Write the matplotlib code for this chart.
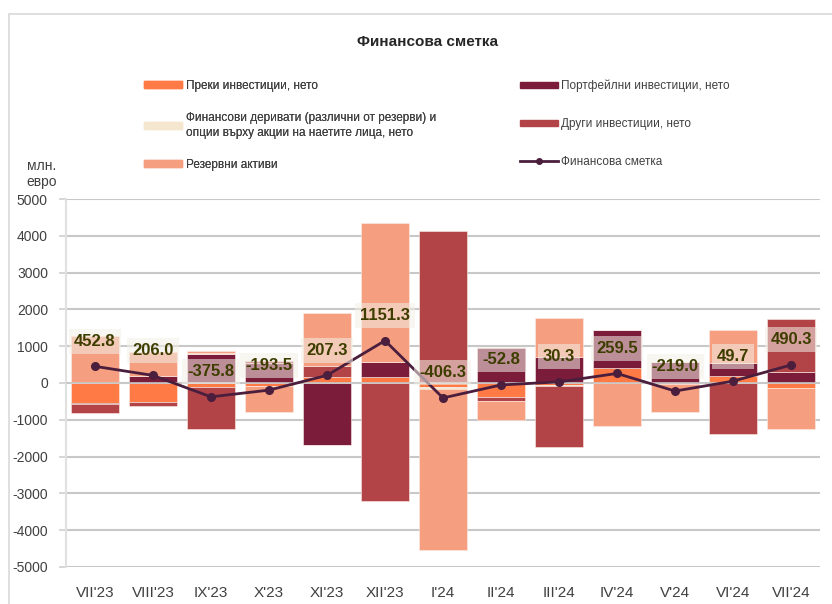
import matplotlib.pyplot as plt
import matplotlib.patches as mpatches
import matplotlib.lines as mlines
import numpy as np

months = ["VII'23", "VIII'23", "IX'23", "X'23", "XI'23", "XII'23", "I'24",
          "II'24", "III'24", "IV'24", "V'24", "VI'24", "VII'24"]

direct = [-545, -510, -100, -90, 170, 150, -120, -370, -60, 400, -15, 180, -140]
portfolio = [-30, 200, 790, 540, -1690, 430, 0, 950, 700, 1040, 560, 350, 310]
derivatives = [8, 1, 25, -4, -3, 0, -40, -3, -35, 0, 0, 0, 0]
other = [-250, -115, -1150, 50, 300, -3209, 4124, -110, -1655, 0, 0, -1390, 1430]
reserves = [1270, 630, 59, -690, 1430, 3780, -4370, -520, 1080, -1180, -765, 910, -1110]
fin_account = [452.8, 206.0, -375.8, -193.5, 207.3, 1151.3, -406.3,
               -52.8, 30.3, 259.5, -219.0, 49.7, 490.3]

series = [
    ("Преки инвестиции, нето", direct, "#FF7A45"),
    ("Портфейлни инвестиции, нето", portfolio, "#7B1C3A"),
    ("Финансови деривати (различни от резерви) и\nопции върху акции на наетите лица, нето", derivatives, "#F5E6D0"),
    ("Други инвестиции, нето", other, "#B24448"),
    ("Резервни активи", reserves, "#F59E80"),
]
line_label = "Финансова сметка"
line_color = "#4A1E3C"

plt.rcParams['font.family'] = ['Liberation Sans', 'DejaVu Sans']
plt.rcParams['axes.unicode_minus'] = False
narrow = ['Liberation Sans Narrow', 'Liberation Sans', 'DejaVu Sans']

fig = plt.figure(figsize=(8.32, 6.04), dpi=100)
ax = fig.add_axes([0.0793, 0.0613, 0.9063, 0.6092])

x = np.arange(len(months))
pos_bottom = np.zeros(len(months))
neg_bottom = np.zeros(len(months))
handles = {}
for label, vals, color in series:
    vals = np.array(vals, dtype=float)
    bottom = np.where(vals >= 0, pos_bottom, neg_bottom)
    ax.bar(x, vals, width=0.83, bottom=bottom, color=color,
           edgecolor='#FBEDE6', linewidth=0.4, zorder=2)
    pos_bottom += np.where(vals >= 0, vals, 0)
    neg_bottom += np.where(vals < 0, vals, 0)
    handles[label] = mpatches.Patch(color=color, label=label)

ax.plot(x, fin_account, color=line_color, linewidth=2.0, marker='o',
        markersize=5.5, zorder=4)

for xi, v in zip(x, fin_account):
    ax.annotate(f"{v:.1f}", (xi, v), xytext=(0, 18), textcoords='offset points',
                ha='center', va='center', fontsize=12, fontweight='bold',
                color='#3D3D00', family=narrow, zorder=5,
                bbox=dict(boxstyle='square,pad=0.3', facecolor='#F2EFE6',
                          edgecolor='none', alpha=0.55))

ax.set_xlim(-0.5, len(months) - 0.5)
ax.set_ylim(-5000, 5000)
ax.set_yticks(np.arange(-5000, 5001, 1000))
ax.set_xticks(x)
ax.set_xticklabels(months, family=narrow, fontsize=11, color='#404040')
ax.tick_params(axis='x', length=0, pad=14)
ax.tick_params(axis='y', labelsize=10, colors='#D0D0D0', labelcolor='#404040',
               length=5, width=1.2, pad=8)
for lab in ax.get_yticklabels():
    lab.set_family(narrow)
ax.yaxis.grid(True, color='#C8C8C8', linewidth=1.5, zorder=0)
ax.set_axisbelow(True)
for side in ['top', 'right', 'bottom']:
    ax.spines[side].set_visible(False)
ax.spines['left'].set_color('#E0E0E0')
ax.spines['left'].set_linewidth(1.5)
ax.axhline(0, color='#C8C8C8', linewidth=1.2, zorder=3)

fig.text(0.05, 0.712, "млн.\nевро", ha='center', va='center', fontsize=10,
         color='#404040', linespacing=1.1)
fig.text(0.514, 0.93, line_label, ha='center', va='center', fontsize=11,
         fontweight='bold', color='#262626')

fig.add_artist(mpatches.Rectangle((0.011, -0.01), 1.0, 0.987, transform=fig.transFigure,
                                  fill=False, edgecolor='#D9D9D9', linewidth=1.2))

left_h = [handles[series[0][0]], handles[series[2][0]], handles[series[4][0]]]
line_h = mlines.Line2D([], [], color=line_color, linewidth=2.0, marker='o',
                       markersize=4, label=line_label)
right_h = [handles[series[1][0]], handles[series[3][0]], line_h]

leg1 = fig.legend(handles=left_h, loc='upper left', bbox_to_anchor=(0.168, 0.876),
                  frameon=False, fontsize=8.5, handlelength=3.2, handleheight=0.5,
                  labelspacing=1.7, handletextpad=0.3, borderaxespad=0,
                  labelcolor='#404040')
leg1.get_texts()[1].set_linespacing(1.35)
fig.add_artist(leg1)
fig.legend(handles=right_h, loc='upper left', bbox_to_anchor=(0.619, 0.876),
           frameon=False, fontsize=8.5, handlelength=3.2, handleheight=0.5,
           labelspacing=2.2, handletextpad=0.3, borderaxespad=0,
           labelcolor='#404040')

fig.savefig('out.png', dpi=100)
